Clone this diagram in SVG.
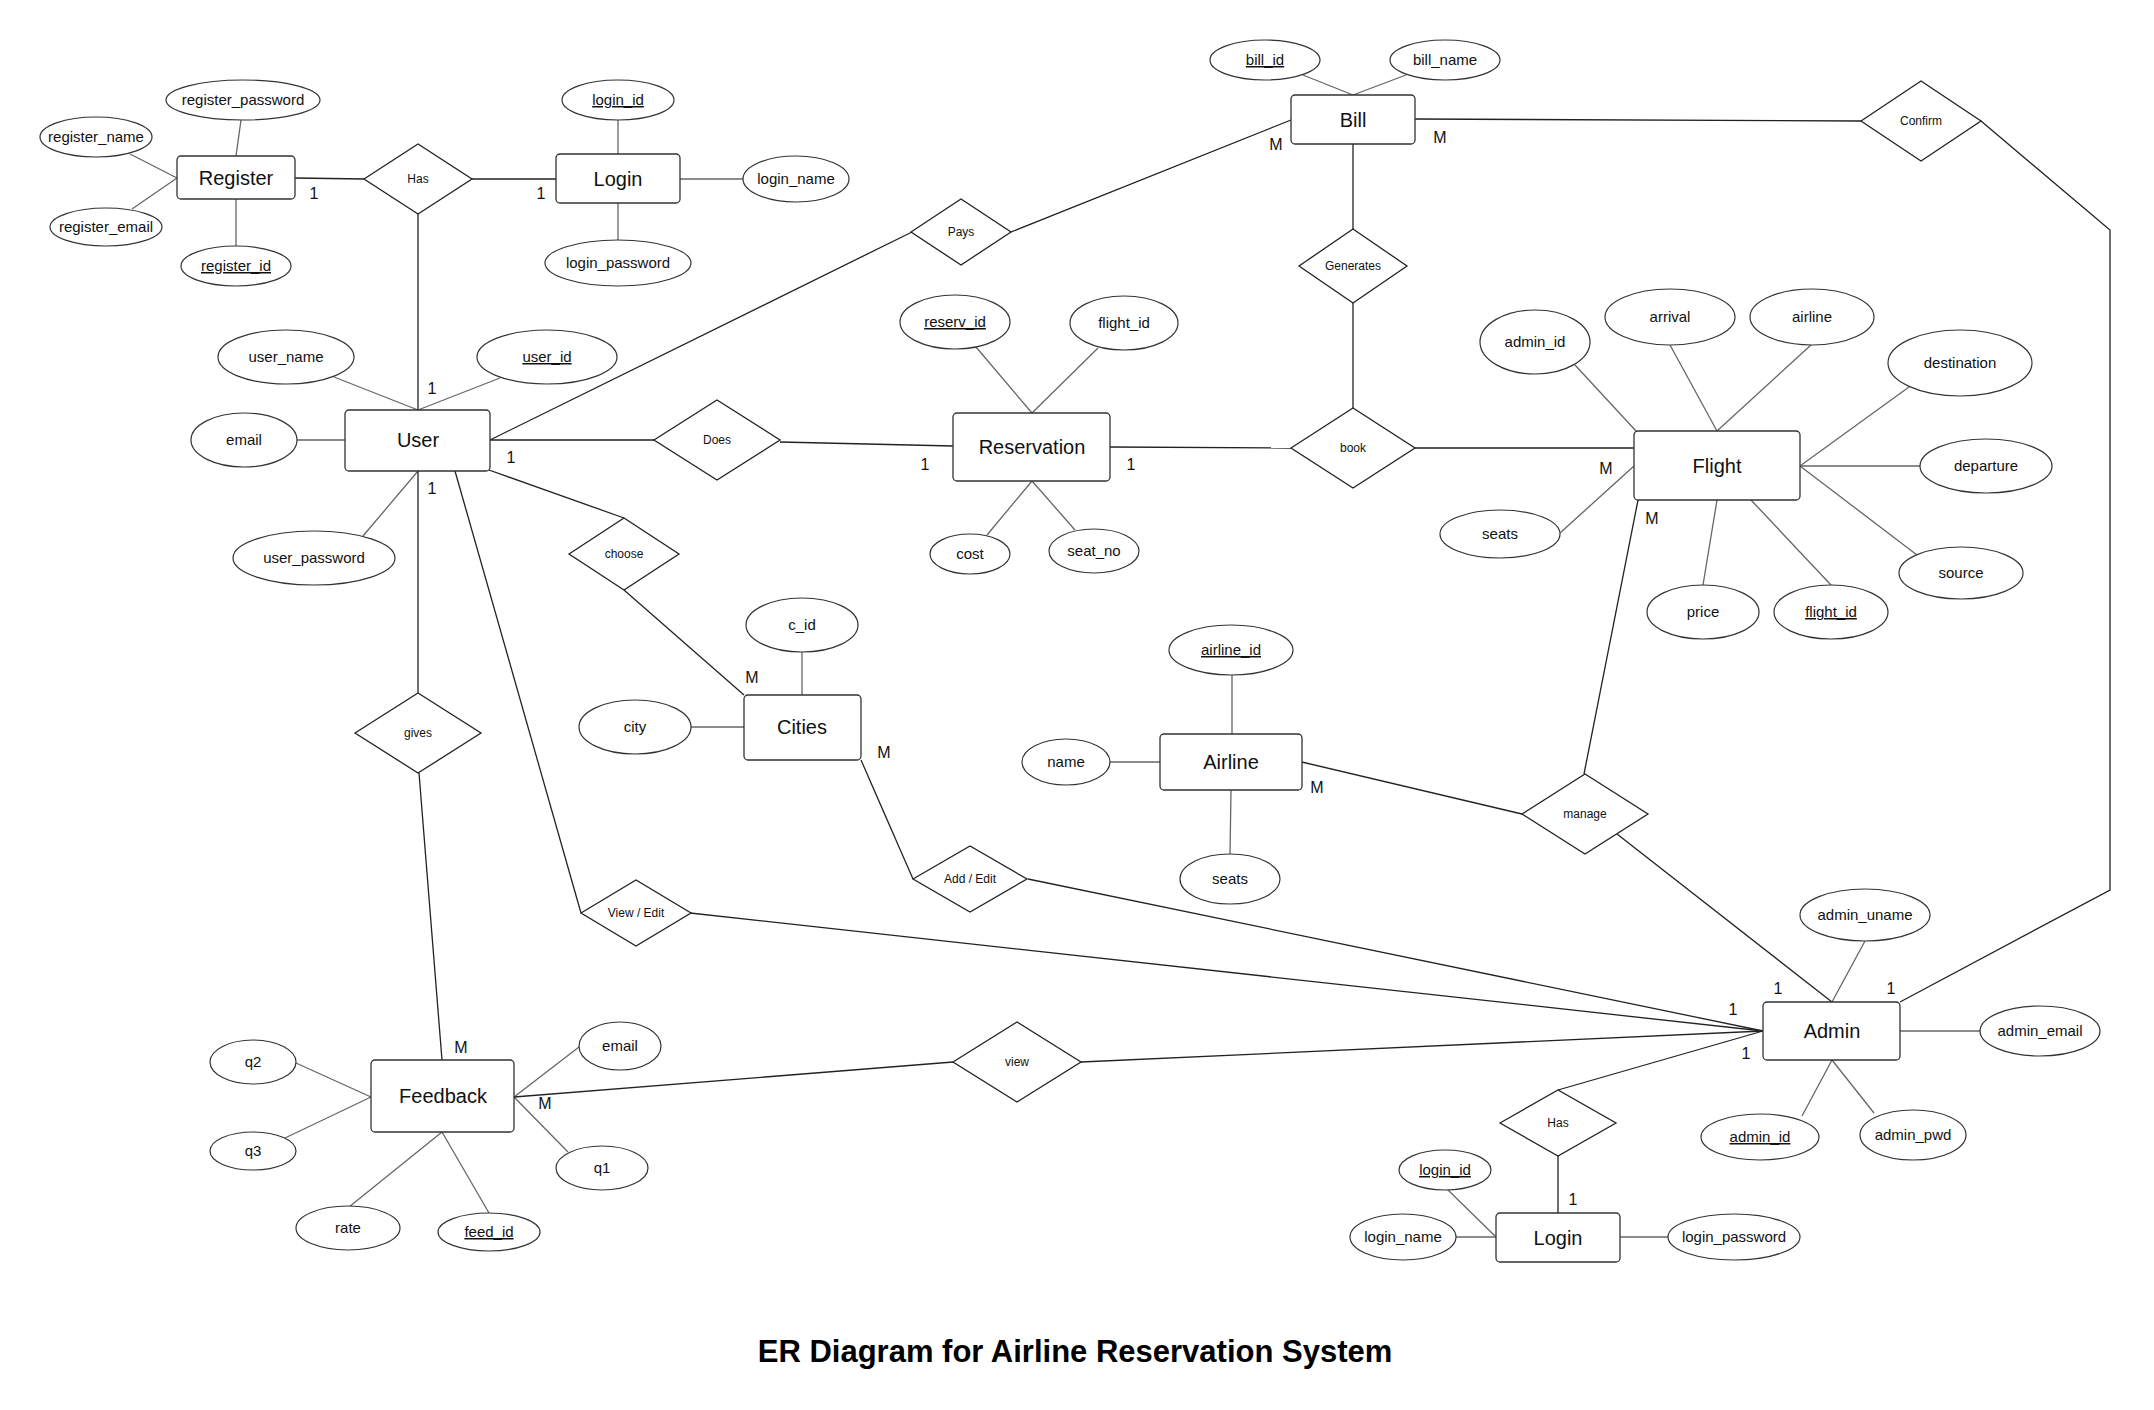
<svg xmlns="http://www.w3.org/2000/svg" width="2154" height="1410" viewBox="0 0 2154 1410">
<style>
text{font-family:"Liberation Sans",Arial,sans-serif;fill:#111;text-anchor:middle}
.ent rect{fill:#fff;stroke:#333;stroke-width:1.3}
.attr ellipse{fill:#fff;stroke:#333;stroke-width:1.2}
.rel polygon{fill:#fff;stroke:#222;stroke-width:1.3}
.la line{stroke:#666;stroke-width:1.3}
.lr line,.lr polyline{stroke:#222;stroke-width:1.3;fill:none}
.te{font-size:20px}
.ta{font-size:15px}
.tr{font-size:12px}
.tc{font-size:16px}
.u{text-decoration:underline}
.title{font-size:31px;font-weight:bold;fill:#000}
</style>
<rect width="2154" height="1410" fill="#fff"/>
<g id="connectors">
<g class="la">
<line x1="241" y1="120" x2="236" y2="156"/>
<line x1="130" y1="154" x2="177" y2="178"/>
<line x1="132" y1="209" x2="177" y2="178"/>
<line x1="236" y1="199" x2="236" y2="246"/>
<line x1="618" y1="120" x2="618" y2="154"/>
<line x1="618" y1="203" x2="618" y2="240"/>
<line x1="680" y1="179" x2="743" y2="179"/>
<line x1="334" y1="377" x2="418" y2="410"/>
<line x1="500" y1="378" x2="418" y2="410"/>
<line x1="297" y1="440" x2="345" y2="440"/>
<line x1="363" y1="536" x2="418" y2="471"/>
<line x1="1303" y1="75" x2="1353" y2="95"/>
<line x1="1406" y1="75" x2="1353" y2="95"/>
<line x1="976" y1="347" x2="1032" y2="413"/>
<line x1="1098" y1="348" x2="1032" y2="413"/>
<line x1="987" y1="535" x2="1032" y2="481"/>
<line x1="1075" y1="530" x2="1032" y2="481"/>
<line x1="1575" y1="365" x2="1636" y2="431"/>
<line x1="1670" y1="345" x2="1717" y2="431"/>
<line x1="1811" y1="345" x2="1717" y2="431"/>
<line x1="1909" y1="387" x2="1800" y2="466"/>
<line x1="1920" y1="466" x2="1800" y2="466"/>
<line x1="1560" y1="533" x2="1634" y2="466"/>
<line x1="1917" y1="555" x2="1800" y2="466"/>
<line x1="1703" y1="585" x2="1717" y2="500"/>
<line x1="1831" y1="585" x2="1751" y2="500"/>
<line x1="802" y1="652" x2="802" y2="695"/>
<line x1="691" y1="727" x2="744" y2="727"/>
<line x1="1232" y1="675" x2="1232" y2="734"/>
<line x1="1110" y1="762" x2="1160" y2="762"/>
<line x1="1231" y1="790" x2="1230" y2="854"/>
<line x1="1865" y1="941" x2="1832" y2="1002"/>
<line x1="1900" y1="1031" x2="1980" y2="1031"/>
<line x1="1802" y1="1116" x2="1832" y2="1060"/>
<line x1="1874" y1="1113" x2="1832" y2="1060"/>
<line x1="1447" y1="1189" x2="1496" y2="1237"/>
<line x1="1456" y1="1237" x2="1496" y2="1237"/>
<line x1="1620" y1="1237" x2="1668" y2="1237"/>
<line x1="296" y1="1063" x2="371" y2="1097"/>
<line x1="285" y1="1138" x2="371" y2="1097"/>
<line x1="579" y1="1047" x2="514" y2="1097"/>
<line x1="568" y1="1152" x2="514" y2="1097"/>
<line x1="349" y1="1207" x2="442" y2="1132"/>
<line x1="489" y1="1213" x2="442" y2="1132"/>
</g>
<g class="lr">
<line x1="295" y1="178" x2="364" y2="179"/>
<line x1="472" y1="179" x2="556" y2="179"/>
<line x1="418" y1="214" x2="418" y2="410"/>
<line x1="490" y1="440" x2="912" y2="232"/>
<line x1="1011" y1="232" x2="1291" y2="120"/>
<line x1="490" y1="440" x2="654" y2="440"/>
<line x1="780" y1="442" x2="953" y2="446"/>
<line x1="1353" y1="144" x2="1353" y2="229"/>
<line x1="1353" y1="303" x2="1353" y2="408"/>
<line x1="1110" y1="447" x2="1291" y2="448"/>
<line x1="1415" y1="448" x2="1634" y2="448"/>
<line x1="1415" y1="119" x2="1861" y2="121"/>
<polyline points="1981,121 2110,230 2110,890 1900,1002"/>
<line x1="489" y1="470" x2="624" y2="518"/>
<line x1="624" y1="590" x2="744" y2="695"/>
<line x1="418" y1="471" x2="418" y2="693"/>
<line x1="419" y1="773" x2="442" y2="1060"/>
<line x1="455" y1="471" x2="581" y2="913"/>
<line x1="690" y1="913" x2="1763" y2="1031"/>
<line x1="861" y1="760" x2="913" y2="879"/>
<line x1="1028" y1="879" x2="1763" y2="1031"/>
<line x1="1302" y1="762" x2="1522" y2="814"/>
<line x1="1584" y1="774" x2="1638" y2="500"/>
<line x1="1617" y1="834" x2="1832" y2="1002"/>
<line x1="514" y1="1097" x2="953" y2="1062"/>
<line x1="1081" y1="1062" x2="1763" y2="1031"/>
<line x1="1558" y1="1090" x2="1763" y2="1031"/>
<line x1="1558" y1="1156" x2="1558" y2="1213"/>
</g>
<g id="cardinalities" class="tc">
<text x="314" y="199">1</text>
<text x="541" y="199">1</text>
<text x="432" y="394">1</text>
<text x="511" y="463">1</text>
<text x="432" y="494">1</text>
<text x="1276" y="150">M</text>
<text x="1440" y="143">M</text>
<text x="925" y="470">1</text>
<text x="1131" y="470">1</text>
<text x="1606" y="474">M</text>
<text x="1652" y="524">M</text>
<text x="752" y="683">M</text>
<text x="884" y="758">M</text>
<text x="1317" y="793">M</text>
<text x="1778" y="994">1</text>
<text x="1891" y="994">1</text>
<text x="1733" y="1015">1</text>
<text x="1746" y="1059">1</text>
<text x="1573" y="1205">1</text>
<text x="461" y="1053">M</text>
<text x="545" y="1109">M</text>
</g>
</g>
<g id="entities" class="ent">
<g id="e-register"><rect x="177" y="156" width="118" height="43" rx="4"/><text class="te" x="236" y="185">Register</text></g>
<g id="e-login"><rect x="556" y="154" width="124" height="49" rx="4"/><text class="te" x="618" y="186">Login</text></g>
<g id="e-user"><rect x="345" y="410" width="145" height="61" rx="4"/><text class="te" x="418" y="447">User</text></g>
<g id="e-bill"><rect x="1291" y="95" width="124" height="49" rx="4"/><text class="te" x="1353" y="127">Bill</text></g>
<g id="e-reservation"><rect x="953" y="413" width="157" height="68" rx="4"/><text class="te" x="1032" y="454">Reservation</text></g>
<g id="e-flight"><rect x="1634" y="431" width="166" height="69" rx="4"/><text class="te" x="1717" y="473">Flight</text></g>
<g id="e-cities"><rect x="744" y="695" width="117" height="65" rx="4"/><text class="te" x="802" y="734">Cities</text></g>
<g id="e-airline"><rect x="1160" y="734" width="142" height="56" rx="4"/><text class="te" x="1231" y="769">Airline</text></g>
<g id="e-feedback"><rect x="371" y="1060" width="143" height="72" rx="4"/><text class="te" x="443" y="1103">Feedback</text></g>
<g id="e-admin"><rect x="1763" y="1002" width="137" height="58" rx="4"/><text class="te" x="1832" y="1038">Admin</text></g>
<g id="e-login2"><rect x="1496" y="1213" width="124" height="49" rx="4"/><text class="te" x="1558" y="1245">Login</text></g>
</g>
<g id="relationships" class="rel">
<g id="r-has1"><polygon points="364,179 418,144 472,179 418,214"/><text class="tr" x="418" y="183">Has</text></g>
<g id="r-pays"><polygon points="911,232 961,199 1011,232 961,265"/><text class="tr" x="961" y="236">Pays</text></g>
<g id="r-does"><polygon points="654,440 717,400 780,440 717,480"/><text class="tr" x="717" y="444">Does</text></g>
<g id="r-generates"><polygon points="1299,266 1353,229 1407,266 1353,303"/><text class="tr" x="1353" y="270">Generates</text></g>
<g id="r-book"><polygon points="1291,448 1353,408 1415,448 1353,488"/><text class="tr" x="1353" y="452">book</text></g>
<g id="r-confirm"><polygon points="1861,121 1921,81 1981,121 1921,161"/><text class="tr" x="1921" y="125">Confirm</text></g>
<g id="r-choose"><polygon points="569,554 624,518 679,554 624,590"/><text class="tr" x="624" y="558">choose</text></g>
<g id="r-gives"><polygon points="355,733 418,693 481,733 418,773"/><text class="tr" x="418" y="737">gives</text></g>
<g id="r-viewedit"><polygon points="581,913 636,880 691,913 636,946"/><text class="tr" x="636" y="917">View / Edit</text></g>
<g id="r-addedit"><polygon points="913,879 970,846 1027,879 970,912"/><text class="tr" x="970" y="883">Add / Edit</text></g>
<g id="r-manage"><polygon points="1522,814 1585,774 1648,814 1585,854"/><text class="tr" x="1585" y="818">manage</text></g>
<g id="r-view"><polygon points="953,1062 1017,1022 1081,1062 1017,1102"/><text class="tr" x="1017" y="1066">view</text></g>
<g id="r-has2"><polygon points="1500,1123 1558,1090 1616,1123 1558,1156"/><text class="tr" x="1558" y="1127">Has</text></g>
</g>
<g id="attributes" class="attr">
<g id="a-register_password"><ellipse cx="243" cy="100" rx="77" ry="20"/><text class="ta" x="243" y="105">register_password</text></g>
<g id="a-register_name"><ellipse cx="96" cy="137" rx="56" ry="20"/><text class="ta" x="96" y="142">register_name</text></g>
<g id="a-register_email"><ellipse cx="106" cy="227" rx="56" ry="19"/><text class="ta" x="106" y="232">register_email</text></g>
<g id="a-register_id"><ellipse cx="236" cy="266" rx="55" ry="20"/><text class="ta u" x="236" y="271">register_id</text></g>
<g id="a-login_id"><ellipse cx="618" cy="100" rx="56" ry="20"/><text class="ta u" x="618" y="105">login_id</text></g>
<g id="a-login_password"><ellipse cx="618" cy="263" rx="73" ry="23"/><text class="ta" x="618" y="268">login_password</text></g>
<g id="a-login_name"><ellipse cx="796" cy="179" rx="53" ry="23"/><text class="ta" x="796" y="184">login_name</text></g>
<g id="a-user_name"><ellipse cx="286" cy="357" rx="68" ry="27"/><text class="ta" x="286" y="362">user_name</text></g>
<g id="a-user_id"><ellipse cx="547" cy="357" rx="70" ry="27"/><text class="ta u" x="547" y="362">user_id</text></g>
<g id="a-email"><ellipse cx="244" cy="440" rx="53" ry="27"/><text class="ta" x="244" y="445">email</text></g>
<g id="a-user_password"><ellipse cx="314" cy="558" rx="81" ry="27"/><text class="ta" x="314" y="563">user_password</text></g>
<g id="a-bill_id"><ellipse cx="1265" cy="60" rx="55" ry="20"/><text class="ta u" x="1265" y="65">bill_id</text></g>
<g id="a-bill_name"><ellipse cx="1445" cy="60" rx="55" ry="20"/><text class="ta" x="1445" y="65">bill_name</text></g>
<g id="a-reserv_id"><ellipse cx="955" cy="322" rx="55" ry="27"/><text class="ta u" x="955" y="327">reserv_id</text></g>
<g id="a-res_flight_id"><ellipse cx="1124" cy="323" rx="54" ry="27"/><text class="ta" x="1124" y="328">flight_id</text></g>
<g id="a-cost"><ellipse cx="970" cy="554" rx="40" ry="20"/><text class="ta" x="970" y="559">cost</text></g>
<g id="a-seat_no"><ellipse cx="1094" cy="551" rx="45" ry="22"/><text class="ta" x="1094" y="556">seat_no</text></g>
<g id="a-f_admin_id"><ellipse cx="1535" cy="342" rx="55" ry="32"/><text class="ta" x="1535" y="347">admin_id</text></g>
<g id="a-arrival"><ellipse cx="1670" cy="317" rx="65" ry="28"/><text class="ta" x="1670" y="322">arrival</text></g>
<g id="a-airline"><ellipse cx="1812" cy="317" rx="62" ry="28"/><text class="ta" x="1812" y="322">airline</text></g>
<g id="a-destination"><ellipse cx="1960" cy="363" rx="72" ry="33"/><text class="ta" x="1960" y="368">destination</text></g>
<g id="a-departure"><ellipse cx="1986" cy="466" rx="66" ry="27"/><text class="ta" x="1986" y="471">departure</text></g>
<g id="a-f_seats"><ellipse cx="1500" cy="534" rx="60" ry="24"/><text class="ta" x="1500" y="539">seats</text></g>
<g id="a-source"><ellipse cx="1961" cy="573" rx="62" ry="26"/><text class="ta" x="1961" y="578">source</text></g>
<g id="a-price"><ellipse cx="1703" cy="612" rx="56" ry="27"/><text class="ta" x="1703" y="617">price</text></g>
<g id="a-flight_id"><ellipse cx="1831" cy="612" rx="57" ry="27"/><text class="ta u" x="1831" y="617">flight_id</text></g>
<g id="a-c_id"><ellipse cx="802" cy="625" rx="56" ry="27"/><text class="ta" x="802" y="630">c_id</text></g>
<g id="a-city"><ellipse cx="635" cy="727" rx="56" ry="27"/><text class="ta" x="635" y="732">city</text></g>
<g id="a-airline_id"><ellipse cx="1231" cy="650" rx="62" ry="25"/><text class="ta u" x="1231" y="655">airline_id</text></g>
<g id="a-name"><ellipse cx="1066" cy="762" rx="44" ry="23"/><text class="ta" x="1066" y="767">name</text></g>
<g id="a-a_seats"><ellipse cx="1230" cy="879" rx="50" ry="25"/><text class="ta" x="1230" y="884">seats</text></g>
<g id="a-admin_uname"><ellipse cx="1865" cy="915" rx="65" ry="26"/><text class="ta" x="1865" y="920">admin_uname</text></g>
<g id="a-admin_email"><ellipse cx="2040" cy="1031" rx="60" ry="25"/><text class="ta" x="2040" y="1036">admin_email</text></g>
<g id="a-admin_id"><ellipse cx="1760" cy="1137" rx="59" ry="23"/><text class="ta u" x="1760" y="1142">admin_id</text></g>
<g id="a-admin_pwd"><ellipse cx="1913" cy="1135" rx="53" ry="25"/><text class="ta" x="1913" y="1140">admin_pwd</text></g>
<g id="a-login2_id"><ellipse cx="1445" cy="1170" rx="46" ry="20"/><text class="ta u" x="1445" y="1175">login_id</text></g>
<g id="a-login2_name"><ellipse cx="1403" cy="1237" rx="53" ry="23"/><text class="ta" x="1403" y="1242">login_name</text></g>
<g id="a-login2_password"><ellipse cx="1734" cy="1237" rx="66" ry="23"/><text class="ta" x="1734" y="1242">login_password</text></g>
<g id="a-q2"><ellipse cx="253" cy="1062" rx="43" ry="22"/><text class="ta" x="253" y="1067">q2</text></g>
<g id="a-q3"><ellipse cx="253" cy="1151" rx="43" ry="19"/><text class="ta" x="253" y="1156">q3</text></g>
<g id="a-fb_email"><ellipse cx="620" cy="1046" rx="41" ry="24"/><text class="ta" x="620" y="1051">email</text></g>
<g id="a-q1"><ellipse cx="602" cy="1168" rx="46" ry="22"/><text class="ta" x="602" y="1173">q1</text></g>
<g id="a-rate"><ellipse cx="348" cy="1228" rx="52" ry="22"/><text class="ta" x="348" y="1233">rate</text></g>
<g id="a-feed_id"><ellipse cx="489" cy="1232" rx="51" ry="19"/><text class="ta u" x="489" y="1237">feed_id</text></g>
</g>
<text class="title" x="1075" y="1362">ER Diagram for Airline Reservation System</text>
</svg>
